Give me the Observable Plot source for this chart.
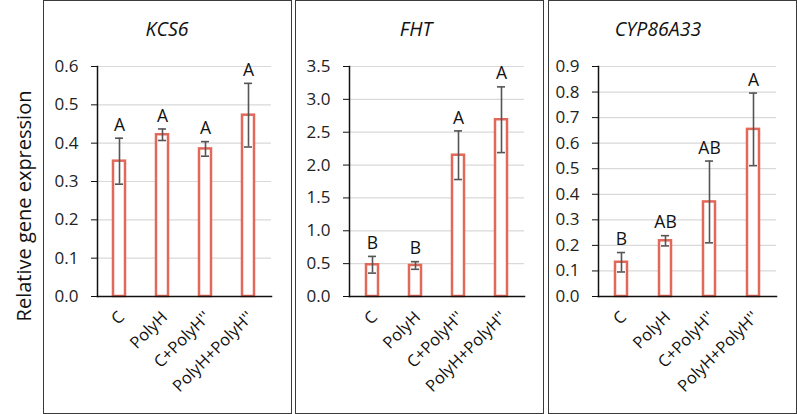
<!DOCTYPE html>
<html><head><meta charset="utf-8">
<script src="https://cdn.jsdelivr.net/npm/d3@7"></script>
<script src="https://cdn.jsdelivr.net/npm/@observablehq/plot@0.6"></script>
<style>
body{margin:0;background:#fff;font-family:"Open Sans",sans-serif;}
#wrap{position:relative;width:797px;height:414px;overflow:hidden;}
.panel{position:absolute;top:0;height:414px;width:249px;border:1px solid #3a3a3a;box-sizing:border-box;}
.panel svg{position:absolute;left:0;top:0;}
.title{position:absolute;top:15px;width:200px;text-align:center;font-style:italic;font-size:19.5px;line-height:28px;color:#111;}
.ylab{position:absolute;left:23px;top:206px;transform:translate(-50%,-50%) rotate(-90deg);white-space:nowrap;font-size:20px;color:#111;}
</style>
</head><body>
<div id="wrap"></div>
<script>
const categories = ["C", "PolyH", "C+PolyH''", "PolyH+PolyH''"];

const kcs6Means = [0.353, 0.422, 0.385, 0.473];
const kcs6Errs = [0.060, 0.015, 0.019, 0.083];
const kcs6Letters = ["A", "A", "A", "A"];
const kcs6Ticks = [0, 0.1, 0.2, 0.3, 0.4, 0.5, 0.6];

const fhtMeans = [0.483, 0.472, 2.150, 2.690];
const fhtErrs = [0.127, 0.058, 0.370, 0.500];
const fhtLetters = ["B", "B", "A", "A"];
const fhtTicks = [0, 0.5, 1.0, 1.5, 2.0, 2.5, 3.0, 3.5];

const cypMeans = [0.134, 0.218, 0.370, 0.654];
const cypErrs = [0.038, 0.020, 0.160, 0.142];
const cypLetters = ["B", "AB", "AB", "A"];
const cypTicks = [0, 0.1, 0.2, 0.3, 0.4, 0.5, 0.6, 0.7, 0.8, 0.9];

const titles = ["KCS6", "FHT", "CYP86A33"];
const yLabel = "Relative gene expression";

const barColor = "#E2685A";
const errColor = "#555555";

const wrap = document.getElementById("wrap");

function makePanel(left, ml, mr, means, errs, letters, ticks, title, titleX) {
  const data = categories.map((c, i) => ({cat: c, mean: means[i], err: errs[i], letter: letters[i]}));
  const div = document.createElement("div");
  div.className = "panel";
  div.style.left = left + "px";
  wrap.appendChild(div);
  const chart = Plot.plot({
    width: 247, height: 412,
    marginLeft: ml, marginRight: mr, marginTop: 65, marginBottom: 117,
    style: {fontFamily: "Open Sans", fontSize: "16px", color: "#222", background: "transparent", overflow: "visible"},
    x: {domain: categories, paddingInner: 0.72, paddingOuter: 0.36, label: null},
    y: {domain: [0, ticks[ticks.length - 1]], label: null},
    marks: [
      Plot.gridY(ticks.filter(t => t > 0), {stroke: "#d9d9d9", strokeOpacity: 1, strokeWidth: 1.2}),
      Plot.barY(data, {x: "cat", y: "mean", fill: "white", stroke: barColor, strokeWidth: 2.5}),
      Plot.ruleX(data, {x: "cat", y1: d => d.mean - d.err, y2: d => d.mean + d.err, stroke: errColor, strokeWidth: 1.6}),
      Plot.tickY(data, {x: "cat", y: d => d.mean + d.err, insetLeft: 2, insetRight: 2, stroke: errColor, strokeWidth: 1.6}),
      Plot.tickY(data, {x: "cat", y: d => d.mean - d.err, insetLeft: 2, insetRight: 2, stroke: errColor, strokeWidth: 1.6}),
      Plot.text(data, {x: "cat", y: d => d.mean + d.err, text: "letter", dy: -13, fontSize: 17.5, fill: "#111"}),
      Plot.axisY({ticks: ticks, tickFormat: d => d.toFixed(1), tickSize: 6, tickPadding: 13, label: null, stroke: "#111", fontSize: 17, fill: "#222"}),
      Plot.axisX({tickSize: 0, tickRotate: -45, tickPadding: 18, dx: 2, label: null, fill: "#111", fontSize: 16.5}),
      Plot.frame({anchor: "left", stroke: "#111", strokeWidth: 1.5}),
      Plot.frame({anchor: "bottom", stroke: "#111", strokeWidth: 1.5})
    ]
  });
  div.appendChild(chart);
  const t = document.createElement("div");
  t.className = "title";
  t.textContent = title;
  t.style.left = (titleX - 100) + "px";
  wrap.appendChild(t);
}

makePanel(43, 53, 20, kcs6Means, kcs6Errs, kcs6Letters, kcs6Ticks, titles[0], 167);
makePanel(295, 53, 19, fhtMeans, fhtErrs, fhtLetters, fhtTicks, titles[1], 416);
makePanel(548, 49, 20, cypMeans, cypErrs, cypLetters, cypTicks, titles[2], 658);

const yl = document.createElement("div");
yl.className = "ylab";
yl.textContent = yLabel;
wrap.appendChild(yl);
</script>
</body></html>
